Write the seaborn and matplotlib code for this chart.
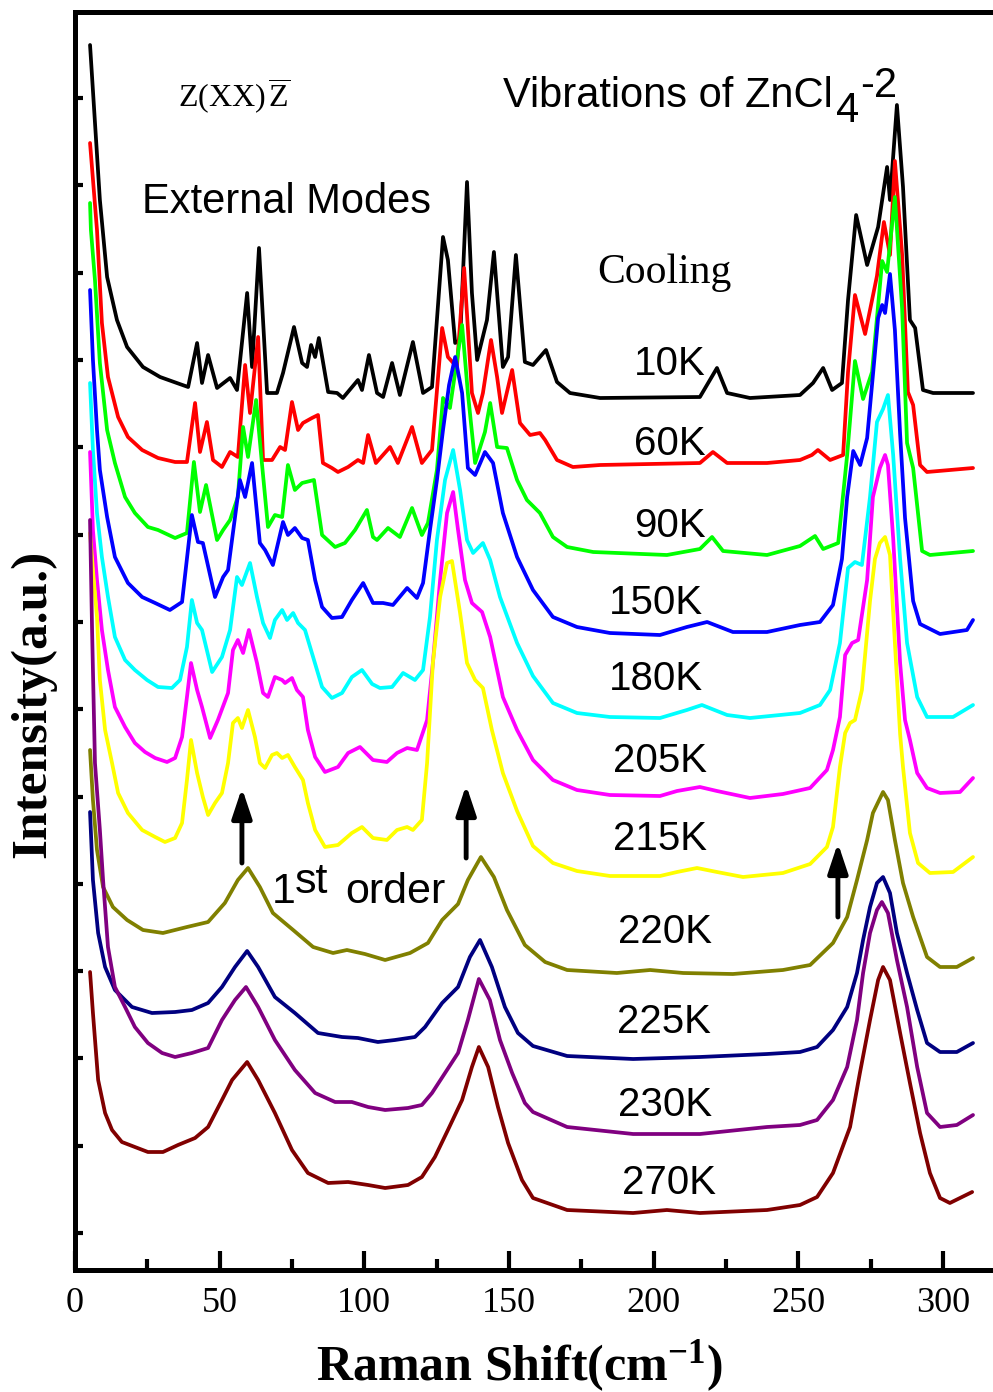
import matplotlib
matplotlib.use("Agg")
import matplotlib.pyplot as plt
from matplotlib.ticker import MultipleLocator, FixedLocator
import numpy as np
import pandas as pd
import seaborn as sns

# ---------------- data (Raman shift cm^-1, stacked intensity a.u.) ----------------
temps = ['10K', '60K', '90K', '150K', '180K', '205K', '215K', '220K', '225K', '230K', '270K']
colors = ['#000000', '#ff0000', '#00ff00', '#0000ff', '#00ffff', '#ff00ff',
          '#ffff00', '#808000', '#000080', '#800080', '#800000']

s_10K = [(5.2,1225),(8.6,1070),(11.1,993),(14.5,950),(18.0,923),(23.5,903),(29.4,893),(35.2,887),
         (39.1,883),(42.2,927),(43.9,887),(46.0,915),(49.1,882),(53.6,892),(56.0,880),(59.5,977),
         (61.2,903),(63.6,1022),(66.4,877),(69.8,877),(71.9,897),(75.7,943),(78.5,907),(80.2,903),
         (81.6,925),(83.0,913),(84.3,932),(87.5,878),(90.6,877),(92.6,872),(97.8,890),(99.2,880),
         (101.6,915),(104.4,877),(106.5,873),(109.6,907),(112.3,875),(116.8,928),(120.3,877),
         (123.4,883),(127.2,1033),(128.9,1010),(131.4,927),(133.1,930),(135.5,1088),(137.2,977),
         (139.0,910),(142.4,950),(144.8,1018),(147.9,903),(149.7,913),(152.4,1015),(155.5,908),
         (158.3,905),(162.8,920),(166.6,888),(171.1,877),(181.5,872),(216.0,873),(221.9,902),
         (225.4,877),(233.3,872),(250.6,875),(255.1,887),(258.6,902),(261.7,880),(265.1,887),
         (267.2,970),(270.0,1055),(273.8,1005),(277.6,1043),(280.7,1103),(281.7,1070),(284.1,1165),
         (286.2,1083),(288.6,950),(290.4,942),(293.1,880),(296.6,877),(310.4,877)]

s_60K = [(5.2,1127),(7.6,1040),(9.3,947),(11.4,893),(14.9,853),(18.3,833),(23.2,820),(28.7,812),
         (34.6,808),(38.7,808),(41.5,867),(43.2,818),(45.6,848),(47.7,810),(50.8,803),(53.6,818),
         (56.3,813),(58.8,905),(60.5,857),(63.3,933),(65.0,810),(68.1,810),(70.9,823),(72.6,820),
         (75.0,868),(77.1,840),(78.8,847),(81.9,852),(84.0,855),(85.7,807),(88.8,802),(90.9,798),
         (94.4,803),(97.8,810),(99.6,807),(101.3,835),(104.0,807),(108.9,823),(111.6,807),
         (116.5,843),(119.9,807),(123.4,820),(126.9,942),(128.9,913),(132.0,903),(134.5,1002),
         (137.2,877),(139.3,857),(141.0,877),(143.8,930),(145.9,893),(147.6,857),(151.1,900),
         (153.8,847),(157.3,835),(160.7,837),(162.5,830),(166.6,810),(172.1,803),(181.5,805),
         (216.0,807),(220.5,818),(225.4,807),(239.2,807),(250.6,810),(254.7,815),(256.8,820),
         (261.0,810),(265.5,815),(267.2,898),(269.6,975),(273.1,936),(277.2,994),(279.6,1048),
         (281.7,1015),(283.4,1109),(285.9,1015),(287.9,878),(289.7,865),(292.1,805),(294.5,798),
         (310.4,802)]

s_90K = [(5.2,1067),(5.5,1040),(6.9,990),(8.6,907),(11.1,840),(13.8,807),(17.3,773),(20.7,757),
         (25.2,743),(28.7,740),(34.6,732),(38.7,737),(41.1,808),(43.2,758),(45.3,785),(49.1,730),
         (51.2,740),(53.6,750),(56.3,773),(58.1,843),(59.8,813),(62.6,870),(64.6,807),(66.7,743),
         (69.1,755),(71.6,753),(73.6,805),(76.0,780),(78.5,787),(82.6,790),(85.4,735),(89.9,723),
         (93.3,727),(96.8,740),(100.9,760),(103.0,733),(104.4,730),(108.2,742),(112.3,733),
         (116.5,762),(119.9,735),(122.0,747),(125.1,800),(127.2,872),(129.6,862),(133.8,945),
         (135.8,877),(138.3,807),(141.7,838),(143.5,867),(145.9,823),(149.3,822),(152.8,790),
         (156.2,770),(160.7,757),(165.2,733),(170.1,723),(179.1,718),(204.6,715),(216.0,721),
         (220.2,733),(224.0,719),(239.2,715),(250.6,724),(255.8,734),(258.6,721),(263.8,727),
         (266.9,815),(269.6,909),(272.4,871),(275.5,898),(279.0,1009),(280.7,998),(283.4,1073),
         (285.9,961),(287.6,827),(289.7,802),(292.8,719),(295.5,715),(310.4,719)]

s_150K = [(5.2,980),(6.2,910),(7.6,840),(8.6,800),(11.1,753),(13.8,713),(18.3,687),(23.2,673),
          (27.7,667),(32.8,660),(37.0,668),(40.4,755),(42.5,728),(44.2,727),(48.4,673),(51.2,693),
          (52.9,700),(57.0,790),(58.8,773),(61.2,807),(63.9,727),(65.7,720),(68.4,705),(71.9,748),
          (73.6,735),(76.0,742),(78.5,732),(80.5,730),(83.0,690),(85.4,663),(88.8,652),(92.3,653),
          (95.7,670),(99.6,687),(103.0,667),(106.5,667),(109.9,665),(114.8,682),(118.2,672),
          (120.3,687),(122.7,740),(125.1,790),(127.2,840),(129.3,885),(131.4,913),(133.8,877),
          (135.8,802),(138.3,795),(141.7,818),(144.5,807),(147.9,757),(152.8,713),(158.3,680),
          (165.2,653),(173.5,643),(184.9,637),(202.2,635),(211.5,643),(218.5,648),(227.4,638),
          (239.2,638),(250.6,645),(257.5,648),(262.0,665),(265.1,711),(266.9,773),(269.0,819),
          (271.4,805),(273.8,832),(275.9,898),(277.6,952),(279.0,965),(280.0,957),(281.7,996),
          (283.4,940),(285.2,836),(286.9,752),(289.7,669),(292.1,646),(299.0,636),(308.3,640),
          (310.4,650)]

s_180K = [(5.2,887),(6.2,820),(7.6,757),(9.3,713),(11.4,673),(13.8,633),(17.3,610),(20.7,600),
          (24.9,590),(28.7,583),(33.5,582),(36.3,590),(38.7,623),(40.4,670),(42.2,647),(43.9,640),
          (47.4,598),(50.8,613),(53.6,640),(56.0,693),(57.7,685),(60.5,707),(62.9,673),(65.0,647),
          (67.4,632),(69.1,650),(71.6,660),(73.3,650),(75.4,657),(77.1,647),(79.5,640),(82.3,613),
          (85.4,583),(88.8,572),(92.3,577),(95.7,593),(99.2,600),(102.7,586),(105.4,582),
          (109.6,583),(113.4,597),(117.5,590),(120.3,600),(122.7,653),(125.1,730),(127.9,790),
          (130.7,820),(133.1,780),(135.5,730),(137.6,717),(141.0,727),(143.5,710),(146.9,673),
          (152.8,627),(158.3,594),(165.2,567),(173.5,557),(184.9,553),(202.2,552),(211.5,560),
          (216.7,565),(225.4,555),(233.3,552),(250.6,557),(257.5,565),(261.0,580),(264.4,627),
          (267.2,702),(269.6,708),(272.0,705),(274.8,773),(277.2,848),(279.3,861),(281.0,875),
          (282.8,815),(285.2,711),(287.6,627),(291.1,573),(294.5,553),(303.5,553),(310.4,565)]

s_205K = [(5.2,818),(6.2,740),(7.6,690),(9.3,640),(11.4,600),(13.8,563),(17.3,543),(20.7,527),
          (24.2,518),(27.7,512),(31.8,508),(34.6,512),(37.0,533),(38.7,573),(40.1,607),(42.2,580),
          (43.9,563),(46.7,532),(49.4,550),(52.9,577),(54.6,620),(56.3,630),(58.1,617),(60.1,640),
          (62.9,607),(65.0,577),(66.7,573),(69.1,593),(71.6,590),(72.6,587),(75.0,592),(76.7,580),
          (78.8,573),(80.5,540),(83.0,513),(86.4,498),(90.9,503),(94.4,517),(98.5,523),(103.0,510),
          (107.8,508),(111.3,517),(114.8,522),(118.2,520),(121.7,550),(123.7,607),(126.2,690),
          (128.6,757),(130.7,778),(132.4,740),(134.8,690),(137.2,667),(140.7,658),(143.5,633),
          (147.9,573),(152.8,540),(158.3,510),(165.2,490),(173.5,480),(184.9,475),(202.2,474),
          (208.1,479),(216.0,483),(221.9,479),(233.3,472),(244.7,476),(254.1,482),(259.9,500),
          (262.0,520),(264.4,553),(266.2,615),(268.6,627),(270.7,630),(273.8,690),(275.8,773),
          (278.2,802),(280.0,815),(281.0,805),(282.8,732),(285.2,607),(286.9,550),(288.6,530),
          (291.1,497),(294.5,482),(299.0,477),(305.9,478),(310.4,492)]

s_215K = [(5.2,737),(6.2,700),(7.6,653),(8.6,590),(10.4,540),(12.8,507),(14.9,477),(18.3,457),
          (23.2,440),(27.7,433),(31.1,428),(34.6,432),(37.0,447),(38.7,490),(40.1,530),(42.2,497),
          (44.2,473),(46.0,455),(48.4,467),(50.8,477),(52.9,507),(54.6,547),(56.3,552),(57.7,542),
          (59.8,560),(62.2,533),(63.9,507),(65.7,502),(68.1,515),(69.8,517),(71.6,512),(73.6,515),
          (76.0,503),(78.8,490),(80.5,467),(83.0,440),(86.4,423),(90.9,425),(95.7,437),(99.2,443),
          (103.0,432),(107.8,430),(111.3,440),(114.8,443),(116.8,440),(119.9,450),(121.7,507),
          (123.7,607),(126.2,673),(128.6,707),(130.3,709),(133.1,657),(135.5,607),(138.3,590),
          (141.0,582),(144.1,540),(147.9,497),(152.8,459),(158.3,424),(165.2,407),(173.5,399),
          (184.9,394),(202.2,394),(208.1,398),(215.0,402),(221.9,398),(230.9,393),(244.7,397),
          (254.1,406),(259.9,423),(262.0,443),(264.4,503),(266.2,537),(267.9,547),(269.6,550),
          (272.0,580),(274.8,669),(276.5,711),(278.2,727),(280.0,733),(281.7,715),(283.4,627),
          (285.2,536),(286.2,503),(288.6,437),(291.4,407),(295.5,397),(303.5,398),(310.4,413)]

s_220K = [(5.2,520),(6.2,470),(7.6,420),(9.7,383),(13.1,363),(18.0,350),(23.5,340),(30.4,337),
          (38.7,343),(46.0,348),(51.8,367),(56.3,390),(59.8,402),(63.9,383),(68.4,357),(75.4,340),
          (82.3,323),(89.2,317),(94.0,320),(100.2,316),(107.2,310),(115.8,317),(122.0,327),
          (126.9,350),(132.4,366),(135.8,390),(140.3,413),(144.8,393),(149.3,360),(155.5,325),
          (162.5,308),(170.1,300),(187.3,297),(198.8,300),(210.2,297),(227.4,296),(244.7,300),
          (254.1,305),(262.0,327),(266.9,353),(270.3,390),(273.8,430),(275.8,457),(279.3,478),
          (281.0,470),(283.4,430),(286.2,387),(289.7,353),(294.5,313),(299.0,303),(304.8,303),
          (310.4,312)]

s_225K = [(5.2,458),(6.2,390),(8.0,337),(10.4,303),(13.8,280),(19.7,263),(26.6,257),(34.6,258),
          (40.4,260),(46.0,267),(50.8,283),(55.3,303),(59.5,319),(63.3,303),(69.1,273),(76.0,257),
          (84.0,237),(92.3,233),(97.8,232),(104.7,228),(110.6,230),(117.5,233),(121.0,243),
          (126.9,267),(132.4,283),(136.5,313),(140.0,330),(144.1,303),(148.6,263),(153.1,237),
          (158.3,224),(170.1,214),(192.9,211),(216.0,213),(239.2,216),(250.6,218),(256.5,223),
          (262.0,240),(266.9,263),(270.3,297),(272.4,330),(274.8,363),(277.2,387),(279.3,393),
          (281.7,377),(284.1,337),(287.6,297),(291.1,260),(294.5,227),(299.0,218),(304.8,218),
          (310.4,227)]

s_230K = [(5.2,750),(5.9,640),(6.9,507),(8.6,440),(9.7,390),(11.4,323),(13.8,283),(17.3,263),
          (20.7,243),(25.2,227),(30.1,217),(34.6,213),(40.4,217),(46.0,222),(50.8,250),(55.3,270),
          (59.1,283),(63.3,263),(69.1,230),(76.0,200),(83.0,177),(89.9,168),(95.7,168),(101.3,163),
          (107.2,160),(115.1,162),(119.9,165),(123.4,177),(127.9,197),(132.4,217),(135.8,250),
          (139.6,291),(143.4,270),(146.9,230),(151.1,197),(155.5,167),(158.3,158),(170.1,143),
          (192.9,136),(216.0,136),(239.2,143),(250.6,145),(256.5,150),(262.0,170),(266.9,203),
          (270.3,250),(272.4,297),(274.8,337),(277.2,360),(278.9,368),(281.0,357),(284.1,310),
          (287.6,263),(291.1,203),(294.5,157),(299.0,143),(304.8,145),(310.4,155)]

s_270K = [(5.2,298),(6.2,257),(8.0,190),(10.4,157),(12.8,140),(16.2,128),(20.7,123),(25.2,118),
          (30.4,118),(35.6,125),(41.5,132),(46.0,143),(50.8,170),(54.3,190),(59.5,208),(63.3,190),
          (69.1,157),(75.0,120),(80.5,97),(87.5,87),(94.4,88),(101.3,85),(107.2,82),(115.1,85),
          (119.9,93),(124.4,113),(128.9,140),(133.8,170),(137.2,203),(139.6,223),(142.8,203),
          (146.2,163),(149.7,127),(154.5,90),(158.3,72),(170.1,60),(192.9,57),(204.6,60),(216.0,57),
          (239.2,60),(250.6,65),(256.5,73),(262.0,97),(267.9,143),(271.3,197),(274.8,250),
          (277.6,290),(279.3,303),(281.7,290),(285.2,237),(288.6,187),(292.1,137),(295.5,97),
          (299.0,72),(302.4,67),(310.1,78)]

spectra = [s_10K, s_60K, s_90K, s_150K, s_180K, s_205K, s_215K, s_220K, s_225K, s_230K, s_270K]

xticks = [0, 50, 100, 150, 200, 250, 300]

rows = []
for t, s in zip(temps, spectra):
    for xv, yv in s:
        rows.append((t, xv, yv))
df = pd.DataFrame(rows, columns=['temp', 'shift', 'intensity'])

# ---------------- style ----------------
sns.set_style('white')
plt.rcParams['font.family'] = ['Liberation Serif', 'DejaVu Serif']
plt.rcParams['text.color'] = 'black'
plt.rcParams['axes.labelcolor'] = 'black'
plt.rcParams['xtick.color'] = 'black'
plt.rcParams['ytick.color'] = 'black'
plt.rcParams['mathtext.fontset'] = 'custom'
plt.rcParams['mathtext.rm'] = 'Liberation Serif'
plt.rcParams['mathtext.it'] = 'Liberation Serif:italic'
plt.rcParams['mathtext.bf'] = 'Liberation Serif:bold'
plt.rcParams['mathtext.sf'] = 'Liberation Sans'

SANS = ['Liberation Sans', 'DejaVu Sans']

fig = plt.figure(figsize=(9.93, 13.92), dpi=100)
ax = fig.add_axes([75 / 993, 1 - 1270 / 1392, (995 - 75) / 993, (1270 - 12) / 1392])

sns.lineplot(data=df, x='shift', y='intensity', hue='temp', hue_order=temps,
             palette=colors, estimator=None, sort=False, lw=2.7, legend=False, ax=ax)
for ln in ax.get_lines():
    ln.set_solid_joinstyle('round')

ax.set_xlim(0, 318)
ax.set_ylim(0, 1258)

ax.xaxis.set_major_locator(FixedLocator(xticks))
ax.set_xticklabels([str(v) for v in xticks])
ax.xaxis.set_minor_locator(MultipleLocator(25))
ax.yaxis.set_major_locator(FixedLocator(np.arange(37, 1258, 87.3)))
ax.tick_params(axis='x', which='major', direction='in', length=14, width=3,
               labelsize=26, pad=12, bottom=True, top=False, colors='black')
ax.tick_params(axis='x', which='minor', direction='in', length=8, width=3,
               bottom=True, top=False, colors='black')
ax.tick_params(axis='y', which='major', direction='in', length=6, width=3,
               left=True, right=False, labelleft=False, colors='black')
for sp in ax.spines.values():
    sp.set_linewidth(3.6)
    sp.set_color('black')

ax.set_xlabel('Raman Shift(cm$^{\\mathbf{-1}}$)', fontsize=36, fontweight='bold', color='black')
ax.xaxis.set_label_coords(0.483, -0.054)
ax.set_ylabel('Intensity(a.u.)', fontsize=37, fontweight='bold', color='black')
ax.yaxis.set_label_coords(-0.02, 0.45)

# temperature labels (right edge x, baseline y)
label_pos = [(218.1, 895), (218.1, 815), (218.1, 733), (217.1, 656), (217.1, 580),
             (218.5, 498), (218.5, 420), (220.2, 327), (219.8, 237), (220.2, 154), (221.6, 76)]
for t, (lx, ly) in zip(temps, label_pos):
    ax.text(lx, ly, t, ha='right', va='baseline', fontsize=29, family=SANS, color='black')

ax.text(35.6, 1163, r'$\mathrm{Z(XX)}\,\overline{\mathrm{Z}}$', fontsize=23,
        ha='left', va='baseline', color='black')
ax.text(23.2, 1057, 'External Modes', fontsize=30, family=SANS, ha='left', va='baseline',
        color='black')
ax.text(147.9, 1163, 'Vibrations of ZnCl', fontsize=30, family=SANS, ha='left',
        va='baseline', color='black')
ax.text(263.0, 1148, '4', fontsize=30, family=SANS, ha='left', va='baseline', color='black')
ax.text(271.3, 1173, '-2', fontsize=30, family=SANS, ha='left', va='baseline', color='black')
ax.text(180.4, 987, 'Cooling', fontsize=30, ha='left', va='baseline', color='black')

ax.text(68.1, 367, '1', fontsize=31, family=SANS, ha='left', va='baseline', color='black')
ax.text(76.0, 377, 'st', fontsize=31, family=SANS, ha='left', va='baseline', color='black')
ax.text(93.3, 367, 'order', fontsize=31, family=SANS, ha='left', va='baseline', color='black')

arrow_style = dict(arrowstyle='-|>,head_width=0.3,head_length=0.9', lw=3.5, color='black',
                   shrinkA=0, shrinkB=0, mutation_scale=20)
for ax_x, y_tail, y_tip in [(57.7, 407, 482), (135.2, 412, 485), (263.7, 353, 427)]:
    ax.annotate('', xy=(ax_x, y_tip), xytext=(ax_x, y_tail), arrowprops=arrow_style)

fig.savefig('out.png', dpi=100)
